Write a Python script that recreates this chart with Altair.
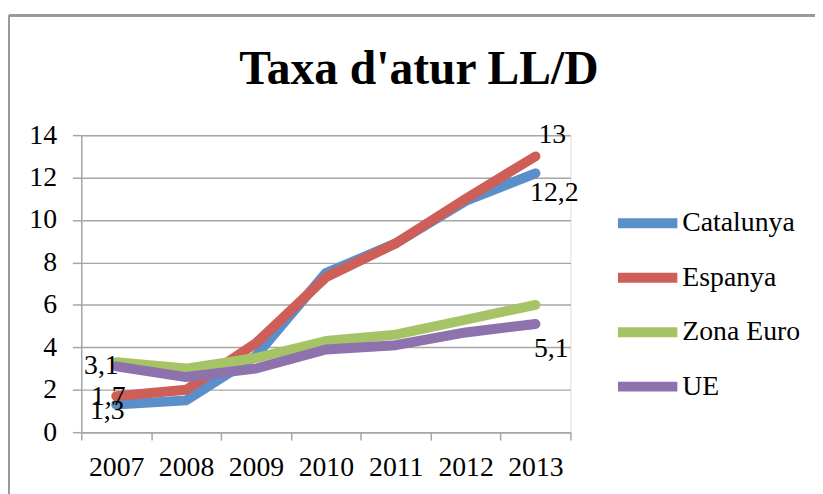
import altair as alt
import pandas as pd

# ---- data ----
years = ["2007", "2008", "2009", "2010", "2011", "2012", "2013"]
series = ["Catalunya", "Espanya", "Zona Euro", "UE"]
catalunya = [1.3, 1.5, 3.6, 7.5, 8.9, 10.9, 12.2]
espanya = [1.7, 2.0, 4.2, 7.3, 8.9, 11.0, 13.0]
zona_euro = [3.3, 3.0, 3.5, 4.3, 4.6, 5.3, 6.0]
ue = [3.1, 2.6, 3.0, 3.9, 4.1, 4.7, 5.1]
y_ticks = [0, 2, 4, 6, 8, 10, 12, 14]
title_text = "Taxa d'atur LL/D"

# points that carry a data label (series, year)
labelled = [("UE", "2007"), ("Espanya", "2007"), ("Catalunya", "2007"),
            ("Espanya", "2013"), ("Catalunya", "2013"), ("UE", "2013")]

# ---- styles ----
colors = ["#5B8FC9", "#CD5F58", "#A6C465", "#8E72AE"]
FONT = "Liberation Serif"
FS = 28
GRID = "#A6A6A6"
label_offsets = {
    ("UE", "2007"): (-15, 0),
    ("Espanya", "2007"): (-8, 1),
    ("Catalunya", "2007"): (-9, 7),
    ("Espanya", "2013"): (17, -22),
    ("Catalunya", "2013"): (19, 20),
    ("UE", "2013"): (16, 25),
}

values = {"Catalunya": catalunya, "Espanya": espanya, "Zona Euro": zona_euro, "UE": ue}
rows = []
for s in series:
    for yr, v in zip(years, values[s]):
        rows.append({"series": s, "year": yr, "value": v,
                     "text": f"{v:g}".replace(".", ",")})
df = pd.DataFrame(rows)

x_scale = alt.Scale(type="band", paddingInner=0, paddingOuter=0)
x_enc = alt.X(
    "year:O",
    scale=x_scale,
    bandPosition=0.5,
    axis=alt.Axis(title=None, labelAngle=0, tickBand="extent", grid=False,
                  domainColor=GRID, tickColor=GRID, domainWidth=1.5, tickWidth=1.5,
                  tickSize=8, labelFont=FONT, labelFontSize=FS, labelColor="black",
                  labelPadding=14),
)
y_enc = alt.Y(
    "value:Q",
    scale=alt.Scale(domain=[0, 14], nice=False),
    axis=alt.Axis(title=None, values=y_ticks, grid=True, gridColor=GRID, gridWidth=1.5,
                  domainColor=GRID, tickColor=GRID, domainWidth=1.5, tickWidth=1.5,
                  tickSize=9, labelFont=FONT, labelFontSize=FS, labelColor="black",
                  labelPadding=16),
)

base = alt.Chart(df)

lines = base.mark_line(strokeWidth=10, strokeCap="round", strokeJoin="round").encode(
    x=x_enc,
    y=y_enc,
    color=alt.Color(
        "series:N",
        scale=alt.Scale(domain=series, range=colors),
        sort=series,
        legend=alt.Legend(title=None, orient="none", legendX=537, legendY=54,
                          symbolType="stroke", symbolStrokeWidth=10, symbolSize=3600,
                          labelFont=FONT, labelFontSize=FS, labelColor="black",
                          labelOffset=0, rowPadding=-6, padding=0),
    ),
    order=alt.Order("year:O"),
)

text_layers = []
for (s, yr) in labelled:
    dx, dy = label_offsets[(s, yr)]
    t = base.transform_filter(
        (alt.datum.series == s) & (alt.datum.year == yr)
    ).mark_text(font=FONT, fontSize=FS, color="black", dx=dx, dy=dy,
                align="center", baseline="middle").encode(
        x=alt.X("year:O", scale=x_scale, bandPosition=0.5),
        y=alt.Y("value:Q"),
        text="text:N",
    )
    text_layers.append(t)

# outer chart frame (decoration)
frame_top = alt.Chart(df).mark_rule(color="#9A9A9A", strokeWidth=2).encode(
    x=alt.value(-73), x2=alt.value(760), y=alt.value(-121))
frame_left = alt.Chart(df).mark_rule(color="#9A9A9A", strokeWidth=2).encode(
    x=alt.value(-73), y=alt.value(-121), y2=alt.value(400))

chart = alt.layer(lines, *text_layers, frame_top, frame_left).properties(
    width=494,
    height=300,
    title=alt.TitleParams(title_text, font=FONT, fontSize=48, fontWeight="bold",
                          color="black", anchor="middle", frame="group", dx=94,
                          baseline="alphabetic", offset=-118),
    padding={"left": 74, "top": 126, "right": 247, "bottom": 60},
    autosize=alt.AutoSizeParams(type="none"),
).configure_view(stroke=None).configure(background="white")

chart.save("out.html", embed_options={"renderer": "svg", "actions": False})
